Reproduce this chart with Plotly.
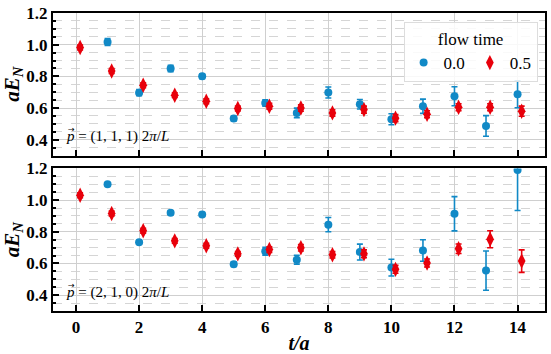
import plotly.graph_objects as go
from plotly.subplots import make_subplots

red_offset = 0.13

# top panel: p = (1,1,1) 2pi/L
top_blue_t = [1, 2, 3, 4, 5, 6, 7, 8, 9, 10, 11, 12, 13, 14]
top_blue_y = [1.017, 0.697, 0.849, 0.800, 0.534, 0.632, 0.569, 0.698, 0.624, 0.529, 0.611, 0.674, 0.487, 0.687]
top_blue_e = [0.022, 0.020, 0.020, 0.015, 0.015, 0.020, 0.030, 0.035, 0.030, 0.035, 0.045, 0.060, 0.065, 0.085]
top_red_t = list(range(15))
top_red_y = [0.982, 0.834, 0.744, 0.681, 0.643, 0.597, 0.611, 0.600, 0.569, 0.590, 0.536, 0.561, 0.605, 0.605, 0.580]
top_red_e = [0.015, 0.015, 0.015, 0.015, 0.015, 0.015, 0.018, 0.020, 0.020, 0.022, 0.022, 0.022, 0.022, 0.022, 0.032]

# bottom panel: p = (2,1,0) 2pi/L
bot_blue_t = [1, 2, 3, 4, 5, 6, 7, 8, 9, 10, 11, 12, 13, 14]
bot_blue_y = [1.100, 0.734, 0.920, 0.910, 0.596, 0.678, 0.624, 0.845, 0.672, 0.574, 0.682, 0.914, 0.555, 1.190]
bot_blue_e = [0.010, 0.012, 0.012, 0.012, 0.015, 0.025, 0.028, 0.045, 0.050, 0.053, 0.068, 0.108, 0.124, 0.255]
bot_red_t = list(range(15))
bot_red_y = [1.031, 0.916, 0.807, 0.743, 0.712, 0.661, 0.688, 0.699, 0.655, 0.661, 0.563, 0.603, 0.693, 0.753, 0.615]
bot_red_e = [0.015, 0.015, 0.015, 0.015, 0.015, 0.015, 0.018, 0.020, 0.020, 0.025, 0.025, 0.025, 0.030, 0.054, 0.071]

x_ticks = [0, 2, 4, 6, 8, 10, 12, 14]
y_ticks = [0.4, 0.6, 0.8, 1.0, 1.2]
y_tick_labels = ["0.4", "0.6", "0.8", "1.0", "1.2"]
series_names = ["0.0", "0.5"]
legend_title = "flow time"
panel_labels = ["<i>p</i> = (1, 1, 1) 2<i>π</i>/<i>L</i>",
                "<i>p</i> = (2, 1, 0) 2<i>π</i>/<i>L</i>"]

BLUE = "#1189c6"
RED = "#e8000b"
SERIF = "Liberation Serif"

fig = make_subplots(rows=2, cols=1, shared_xaxes=True, vertical_spacing=0.0435)

panels = [
    (top_blue_t, top_blue_y, top_blue_e, top_red_t, top_red_y, top_red_e),
    (bot_blue_t, bot_blue_y, bot_blue_e, bot_red_t, bot_red_y, bot_red_e),
]
for i, (bt, by, be, rt, ry, re) in enumerate(panels):
    row = i + 1
    fig.add_trace(go.Scatter(
        x=bt, y=by, mode="markers", name=series_names[0],
        showlegend=(i == 0), legendgroup="b",
        marker=dict(symbol="circle", size=8, color=BLUE),
        error_y=dict(type="data", array=be, visible=True, color=BLUE, thickness=1.6, width=3),
    ), row=row, col=1)
    fig.add_trace(go.Scatter(
        x=[v + red_offset for v in rt], y=ry, mode="markers", name=series_names[1],
        showlegend=(i == 0), legendgroup="r",
        marker=dict(symbol="diamond-tall", size=11, color=RED),
        error_y=dict(type="data", array=re, visible=True, color=RED, thickness=1.6, width=3),
    ), row=row, col=1)

axis_common = dict(
    showline=True, linewidth=2, linecolor="black", mirror=True,
    ticks="inside", tickcolor="black", tickwidth=1.5, ticklen=6,
    showgrid=True, gridcolor="#cfcfcf", gridwidth=1, zeroline=False,
    automargin=False,
    tickfont=dict(family=SERIF, size=17, color="black", weight="bold"),
)
for r in (1, 2):
    fig.update_xaxes(range=[-0.73, 14.87], tickvals=x_ticks, row=r, col=1, **axis_common)
    fig.update_yaxes(range=[0.3, 1.2], tickvals=y_ticks, ticktext=y_tick_labels,
                     minor=dict(dtick=0.05, tick0=0.3, showgrid=True, gridcolor="#d5d5d5",
                                griddash="dash", gridwidth=0.8, ticks="inside", ticklen=3,
                                tickcolor="black"),
                     title=dict(text="<b><i>aE</i><sub><i>N</i></sub></b>",
                                font=dict(family=SERIF, size=21, color="black"), standoff=4),
                     row=r, col=1, **axis_common)
fig.update_xaxes(showticklabels=False, row=1, col=1)
fig.update_xaxes(title=dict(text="<b><i>t/a</i></b>", font=dict(family=SERIF, size=20, color="black"),
                            standoff=0), row=2, col=1)

for k, (xr, yr, yv) in enumerate([("x", "y", 0.422), ("x2", "y2", 0.414)]):
    fig.add_annotation(x=-0.38, y=yv, xref=xr, yref=yr, text=panel_labels[k], showarrow=False,
                       xanchor="left", yanchor="middle", font=dict(family=SERIF, size=15, color="black"))
    fig.add_annotation(x=-0.33, y=yv + 0.045, xref=xr, yref=yr, text="→", showarrow=False,
                       xanchor="left", yanchor="middle", font=dict(family="DejaVu Sans", size=8, color="black"))

fig.update_layout(
    width=551, height=354,
    margin=dict(l=53, r=6, t=12.5, b=43),
    plot_bgcolor="white", paper_bgcolor="white",
    legend=dict(
        title=dict(text=legend_title, side="top center", font=dict(family=SERIF, size=17, color="black")),
        orientation="h", x=0.985, y=0.97, xanchor="right", yanchor="top",
        bgcolor="rgba(255,255,255,0.85)", bordercolor="#dddddd", borderwidth=1,
        font=dict(family=SERIF, size=17, color="black"),
        itemwidth=30, tracegroupgap=0,
    ),
)

fig.write_html("out.html", config={"displayModeBar": False},
               post_script="document.body.style.margin='0';document.body.style.overflow='hidden';")
